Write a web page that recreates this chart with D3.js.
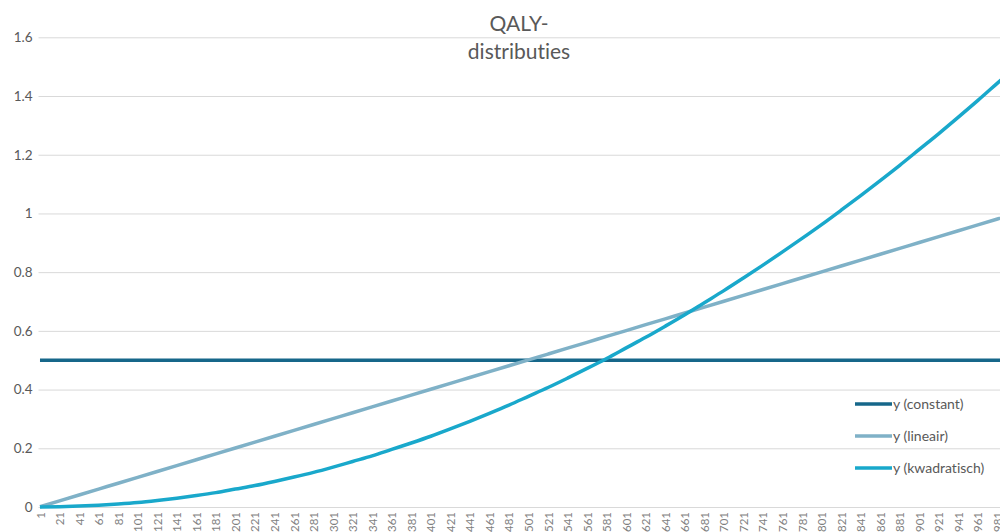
<!DOCTYPE html>
<html>
<head>
<meta charset="utf-8">
<script src="https://cdn.jsdelivr.net/npm/d3@7"></script>
<style>
html,body{margin:0;padding:0;background:#fff;overflow:hidden;}
svg{display:block;}
text{font-variant-ligatures:none;font-feature-settings:"liga" 0;}
</style>
</head>
<body>
<svg id="chart" width="1000" height="532"></svg>
<script>
// ---- data ----
const titleLines = ["QALY-", "distributies"];
const seriesNames = ["y (constant)", "y (lineair)", "y (kwadratisch)"];
const seriesColors = ["#16678a", "#7fb1c7", "#19a8cb"];
const sampleCategories = [1,21,41,61,81,101,121,141,161,181,201,221,241,261,281,301,321,341,361,381,401,421,441,461,481,501,521,541,561,581,601,621,641,661,681,701,721,741,761,781,801,821,841,861,881,901,921,941,961,981,1000];
const constantValues = [0.5,0.5,0.5,0.5,0.5,0.5,0.5,0.5,0.5,0.5,0.5,0.5,0.5,0.5,0.5,0.5,0.5,0.5,0.5,0.5,0.5,0.5,0.5,0.5,0.5,0.5,0.5,0.5,0.5,0.5,0.5,0.5,0.5,0.5,0.5,0.5,0.5,0.5,0.5,0.5,0.5,0.5,0.5,0.5,0.5,0.5,0.5,0.5,0.5,0.5,0.5];
const linearValues = [0.001,0.021,0.041,0.061,0.081,0.101,0.121,0.141,0.161,0.181,0.201,0.221,0.241,0.261,0.281,0.301,0.321,0.341,0.361,0.381,0.401,0.421,0.441,0.461,0.481,0.501,0.521,0.541,0.561,0.581,0.601,0.621,0.641,0.661,0.681,0.701,0.721,0.741,0.761,0.781,0.801,0.821,0.841,0.861,0.881,0.901,0.921,0.941,0.961,0.981,1.0];
const quadraticValues = [0.000,0.001,0.003,0.006,0.010,0.015,0.022,0.030,0.039,0.049,0.061,0.073,0.087,0.102,0.118,0.136,0.155,0.174,0.196,0.218,0.241,0.266,0.292,0.319,0.347,0.377,0.407,0.439,0.472,0.506,0.542,0.578,0.616,0.655,0.696,0.737,0.780,0.824,0.869,0.915,0.962,1.011,1.061,1.112,1.164,1.218,1.272,1.328,1.385,1.444,1.5];
const xTickLabels = [1,21,41,61,81,101,121,141,161,181,201,221,241,261,281,301,321,341,361,381,401,421,441,461,481,501,521,541,561,581,601,621,641,661,681,701,721,741,761,781,801,821,841,861,881,901,921,941,961,981];
const yTickValues = [0,0.2,0.4,0.6,0.8,1,1.2,1.4,1.6];
const categoryCount = 1000;

// ---- layout ----
const svg = d3.select("#chart");
const font = "Lato, 'Open Sans', sans-serif";
const plot = {left: 39.5, right: 1016.5, top: 37.3, bottom: 507};

const x = d3.scaleLinear().domain([0.5, categoryCount + 0.5]).range([plot.left, plot.right]);
const y = d3.scaleLinear().domain([0, 1.6]).range([plot.bottom, plot.top]);

// gridlines + y labels
const yAxis = d3.axisLeft(y).tickValues(yTickValues).tickSize(-(plot.right - plot.left + 2)).tickPadding(6)
  .tickFormat(d3.format("~g"));
const gy = svg.append("g").attr("transform", `translate(${plot.left - 1},0)`).call(yAxis);
gy.select(".domain").remove();
gy.selectAll(".tick line").attr("stroke", "#d9d9d9").attr("stroke-width", 1);
gy.selectAll(".tick text").attr("fill", "#595959").attr("font-family", font).attr("font-size", 13.5).attr("x", -6);

// x axis labels
const gx = svg.append("g").attr("transform", `translate(0,${plot.bottom})`)
  .call(d3.axisBottom(x).tickValues(xTickLabels).tickSize(0).tickFormat(d3.format("d")));
gx.select(".domain").attr("stroke", "#d9d9d9");
gx.selectAll(".tick text")
  .attr("fill", "#7f7f7f").attr("font-family", font).attr("font-size", 11.5)
  .attr("transform", "rotate(-90)").attr("text-anchor", "end")
  .attr("x", -5).attr("y", 0).attr("dy", "0.35em");

// title
svg.append("g").selectAll("text").data(titleLines).join("text")
  .attr("x", 519).attr("y", (d, i) => 31 + i * 28)
  .attr("text-anchor", "middle").attr("fill", "#595959")
  .attr("font-family", font).attr("font-size", 21).text(d => d);

// series
const seriesValues = [constantValues, linearValues, quadraticValues];
const line = d3.line().x(d => x(d[0])).y(d => y(d[1])).curve(d3.curveMonotoneX);
seriesValues.forEach((vals, si) => {
  const pts = sampleCategories.map((c, i) => [c, vals[i]]);
  svg.append("path").datum(pts)
    .attr("d", line).attr("fill", "none")
    .attr("stroke", seriesColors[si]).attr("stroke-width", 3.5)
    .attr("stroke-linecap", "butt").attr("stroke-linejoin", "round");
});

// legend
const legendY = [404, 436, 468];
const lg = svg.append("g").selectAll("g").data(seriesNames).join("g")
  .attr("transform", (d, i) => `translate(855,${legendY[i]})`);
lg.append("line").attr("x1", 0).attr("x2", 37).attr("y1", 0).attr("y2", 0)
  .attr("stroke", (d, i) => seriesColors[i]).attr("stroke-width", 3.5);
lg.append("text").attr("x", 38).attr("y", 0).attr("dy", "0.35em")
  .attr("fill", "#595959").attr("font-family", font).attr("font-size", 14).text(d => d);
</script>
</body>
</html>
